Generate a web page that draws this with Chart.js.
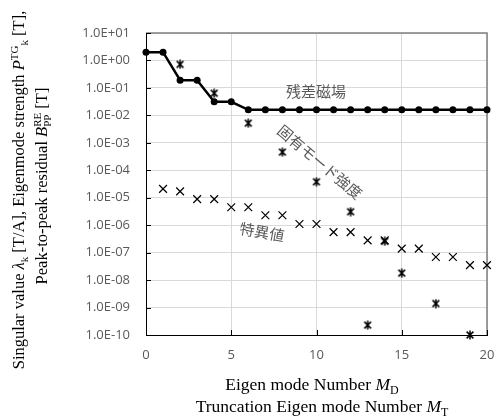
<!DOCTYPE html>
<html>
<head>
<meta charset="utf-8">
<script src="https://cdn.jsdelivr.net/npm/chart.js@4.4.1/dist/chart.umd.min.js"></script>
<style>
html, body { margin: 0; padding: 0; background: #fff; }
#wrap { width: 500px; height: 416px; }
</style>
</head>
<body>
<div id="wrap"><canvas id="c" width="500" height="416"></canvas></div>
<script>
// residual field vs truncation mode number
const residualModes = [0,1,2,3,4,5,6,7,8,9,10,11,12,13,14,15,16,17,18,19,20];
const residualValues = [2, 2, 0.19, 0.19, 0.031, 0.031, 0.016, 0.016, 0.016, 0.016, 0.016,
    0.016, 0.016, 0.016, 0.016, 0.016, 0.016, 0.016, 0.016, 0.016, 0.016];
// eigenmode strength (only the points above 1e-10 are visible)
const strengthModes = [2, 4, 6, 8, 10, 12, 13, 14, 15, 17, 19];
const strengthValues = [0.72, 0.064, 0.0052, 0.00046, 3.8e-5, 3.1e-6, 2.3e-10, 2.6e-7, 1.8e-8, 1.4e-9, 1.0e-10];
// singular values
const singularModes = [1,2,3,4,5,6,7,8,9,10,11,12,13,14,15,16,17,18,19,20];
const singularValues = [2.1e-5, 1.7e-5, 8.9e-6, 8.9e-6, 4.5e-6, 4.5e-6, 2.3e-6, 2.3e-6, 1.1e-6, 1.1e-6,
    5.6e-7, 5.6e-7, 2.8e-7, 2.8e-7, 1.4e-7, 1.4e-7, 6.9e-8, 6.9e-8, 3.5e-8, 3.5e-8];

const yTickValues = [1e-10, 1e-9, 1e-8, 1e-7, 1e-6, 1e-5, 1e-4, 1e-3, 1e-2, 1e-1, 1, 10];
const yTickLabels = ['1.0E-10','1.0E-09','1.0E-08','1.0E-07','1.0E-06','1.0E-05',
    '1.0E-04','1.0E-03','1.0E-02','1.0E-01','1.0E+00','1.0E+01'];
const xTickValues = [0, 5, 10, 15, 20];

const gray = '#595959';
const serif = '"Liberation Serif", "Times New Roman", serif';
const cjk = '"Noto Sans CJK JP", sans-serif';

function pairs(xs, ys) {
    return xs.map((x, i) => ({x: x, y: ys[i]}));
}

function makeAsterisk(size, lw) {
    let c = document.createElement('canvas');
    c.width = size; c.height = size;
    let g = c.getContext('2d');
    g.strokeStyle = '#000';
    g.lineWidth = lw;
    let m = size / 2, r = size / 2 - 0.5, d = r * 0.75;
    g.beginPath();
    g.moveTo(m, m - r); g.lineTo(m, m + r);
    g.moveTo(m - d, m - d); g.lineTo(m + d, m + d);
    g.moveTo(m - d, m + d); g.lineTo(m + d, m - d);
    g.stroke();
    return c;
}

// draw text made of pieces (italic, sub, sup), centred on cx,cy
function richText(ctx, segs, cx, cy, rot, size) {
    let small = Math.round(size * 0.68);
    function fontOf(s) {
        return (s.italic ? 'italic ' : '') + (s.sub || s.sup || s.stack ? small : size) + 'px ' + serif;
    }
    let total = 0;
    segs.forEach(s => {
        ctx.font = fontOf(s);
        if (s.stack) {
            s.w = Math.max(ctx.measureText(s.stack[0]).width, ctx.measureText(s.stack[1]).width);
        } else {
            s.w = ctx.measureText(s.t).width;
        }
        total += s.w;
    });
    ctx.save();
    ctx.translate(cx, cy);
    ctx.rotate(rot);
    ctx.fillStyle = '#000';
    ctx.textBaseline = 'alphabetic';
    ctx.textAlign = 'left';
    let x = -total / 2;
    let base = size * 0.33;
    segs.forEach(s => {
        ctx.font = fontOf(s);
        if (s.stack) {
            ctx.fillText(s.stack[0], x, base - size * 0.42);
            ctx.fillText(s.stack[1], x, base + size * 0.22);
        } else {
            let dy = s.sub ? size * 0.22 : (s.sup ? -size * 0.42 : 0);
            ctx.fillText(s.t, x, base + dy);
        }
        x += s.w;
    });
    ctx.restore();
}

const decor = {
    id: 'decor',
    beforeDatasetsDraw(chart) {
        let ctx = chart.ctx, a = chart.chartArea;
        let xs = chart.scales.x, ys = chart.scales.y;
        ctx.save();
        ctx.strokeStyle = '#808080';
        ctx.lineWidth = 1.5;
        ctx.beginPath();
        ctx.moveTo(a.left, a.top); ctx.lineTo(a.right, a.top); ctx.lineTo(a.right, a.bottom);
        ctx.stroke();
        // inner tick marks
        ctx.strokeStyle = '#000';
        ctx.lineWidth = 1;
        ctx.beginPath();
        yTickValues.forEach(v => {
            let y = Math.round(ys.getPixelForValue(v)) + 0.5;
            ctx.moveTo(a.left, y); ctx.lineTo(a.left + 5, y);
        });
        xTickValues.forEach(v => {
            let x = Math.round(xs.getPixelForValue(v)) + 0.5;
            ctx.moveTo(x, a.bottom); ctx.lineTo(x, a.bottom - 5);
        });
        ctx.stroke();
        ctx.restore();
    },
    afterDraw(chart) {
        let ctx = chart.ctx;
        ctx.save();
        ctx.fillStyle = gray;
        ctx.textAlign = 'center';
        ctx.textBaseline = 'middle';
        ctx.font = '15px ' + cjk;
        ctx.fillText('残差磁場', 316, 91);
        ctx.save();
        ctx.translate(320, 162);
        ctx.rotate(40 * Math.PI / 180);
        ctx.fillText('固有モード強度', 0, 0);
        ctx.restore();
        ctx.save();
        ctx.translate(262, 232);
        ctx.rotate(10 * Math.PI / 180);
        ctx.fillText('特異値', 0, 0);
        ctx.restore();
        ctx.restore();

        // axis titles
        richText(ctx, [
            {t: 'Singular value '}, {t: 'λ', italic: true}, {t: 'k', sub: true},
            {t: ' [T/A], Eigenmode strength '}, {t: 'P', italic: true}, {t: 'TG', sup: true},
            {t: 'k', sub: true}, {t: ' [T],'}
        ], 19, 190, -Math.PI / 2, 16.5);
        richText(ctx, [
            {t: 'Peak-to-peak residual '}, {t: 'B', italic: true}, {stack: ['RE', 'PP']}, {t: ' [T]'}
        ], 42, 186, -Math.PI / 2, 16.5);
        richText(ctx, [
            {t: 'Eigen mode Number '}, {t: 'M', italic: true}, {t: 'D', sub: true}
        ], 312, 384, 0, 17.5);
        richText(ctx, [
            {t: 'Truncation Eigen mode Number '}, {t: 'M', italic: true}, {t: 'T', sub: true}
        ], 322, 406, 0, 17.5);
    }
};

new Chart(document.getElementById('c'), {
    type: 'scatter',
    data: {
        datasets: [
            {
                data: pairs(residualModes, residualValues),
                showLine: true,
                borderColor: '#000',
                borderWidth: 2.5,
                pointRadius: 3.5,
                pointBackgroundColor: '#000',
                pointBorderColor: '#000',
                pointBorderWidth: 0,
                clip: false
            },
            {
                data: pairs(strengthModes, strengthValues),
                pointStyle: makeAsterisk(10, 1.5),
                pointRadius: 5,
                clip: false
            },
            {
                data: pairs(singularModes, singularValues),
                pointStyle: 'crossRot',
                pointRadius: 5.5,
                borderColor: '#000',
                borderWidth: 1.2,
                clip: false
            }
        ]
    },
    options: {
        responsive: false,
        animation: false,
        devicePixelRatio: 1,
        layout: { padding: { left: 0, right: 13, top: 33, bottom: 0 } },
        plugins: {
            legend: { display: false },
            tooltip: { enabled: false }
        },
        scales: {
            x: {
                type: 'linear',
                min: 0,
                max: 20,
                afterBuildTicks: s => { s.ticks = xTickValues.map(v => ({value: v})); },
                afterFit: s => { s.height = 81; s.paddingLeft = 0; s.paddingRight = 0; },
                ticks: {
                    color: gray,
                    font: { family: '"Open Sans", sans-serif', size: 13 },
                    padding: 12
                },
                grid: { color: '#d9d9d9', lineWidth: 1, drawTicks: false },
                border: { color: '#000', width: 1 }
            },
            y: {
                type: 'logarithmic',
                min: 1e-10,
                max: 10,
                afterBuildTicks: s => { s.ticks = yTickValues.map(v => ({value: v, major: true})); },
                afterFit: s => { s.width = 146; },
                ticks: {
                    color: gray,
                    font: { family: '"Open Sans", sans-serif', size: 13 },
                    padding: 16,
                    autoSkip: false,
                    callback: (v, i) => yTickLabels[i]
                },
                grid: { color: '#d9d9d9', lineWidth: 1, drawTicks: false },
                border: { color: '#000', width: 1 }
            }
        }
    },
    plugins: [decor]
});
</script>
</body>
</html>
